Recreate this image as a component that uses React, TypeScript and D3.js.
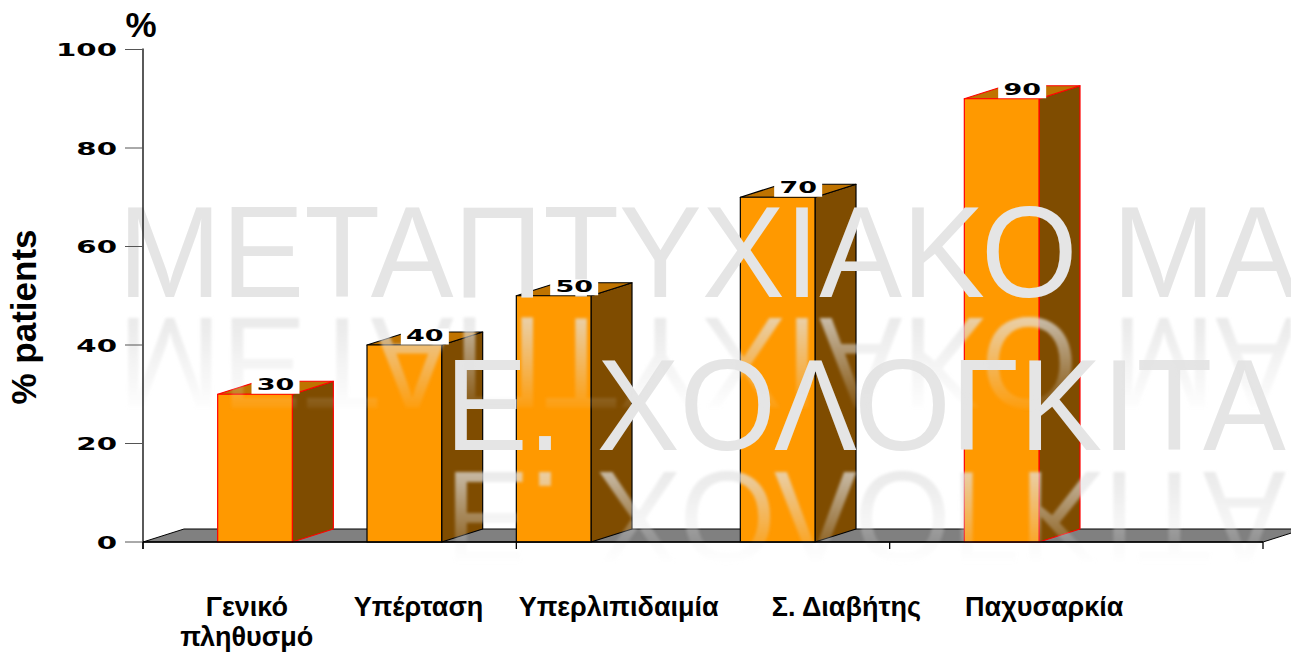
import React from "react";
import * as d3 from "d3";

// ---- data ----
const categories = ["Γενικό πληθυσμό", "Υπέρταση", "Υπερλιπιδαιμία", "Σ. Διαβήτης", "Παχυσαρκία"];
const categoryLines = [["Γενικό", "πληθυσμό"], ["Υπέρταση"], ["Υπερλιπιδαιμία"], ["Σ. Διαβήτης"], ["Παχυσαρκία"]];
const values = [30, 40, 50, 70, 90];
const yTicks = [0, 20, 40, 60, 80, 100];
const yLabel = "% patients";
const yUnit = "%";
const watermark1 = "ΜΕΤΑΠΤΥΧΙΑΚΟ ΜΑΘΗΜΑ";
const watermark2 = "Ε. ΧΟΛΟΓΚΙΤΑΣ";

// ---- layout (slot grid of the original chart) ----
const SLOT_COUNT = 15;
const BAR_SLOT = [1, 3, 5, 8, 11];
const LABEL_SLOT = [1.39, 3.69, 6.37, 9.42, 12.07];
const X_TICK_SLOTS = [0, 5, 10, 15];
const BAR_STROKE = ["#ff0000", "#000000", "#000000", "#000000", "#ff0000"];

const W = 1291;
const H = 655;
const DX = 41;
const DY = 13;

export default function App() {
  const x = d3.scaleLinear().domain([0, SLOT_COUNT]).range([143, 1263]);
  const y = d3.scaleLinear().domain([0, 100]).range([542, 49.5]);
  const bw = x(1) - x(0);
  const y0 = y(0);

  const floor = `M${x(0)},${y0} L${x(SLOT_COUNT)},${y0} L${x(SLOT_COUNT) + DX},${y0 - DY} L${x(0) + DX},${y0 - DY} Z`;

  const wmStyle = { fontFamily: "'Liberation Sans', Arial, sans-serif", fontSize: 130 };

  return (
    <svg width={W} height={H} style={{ position: "absolute", left: 0, top: 0, background: "#fff" }}>
      <defs>
        <linearGradient id="refl1" gradientUnits="userSpaceOnUse" x1="0" y1="310" x2="0" y2="410">
          <stop offset="0" stopColor="#fff" stopOpacity="0.8" />
          <stop offset="1" stopColor="#fff" stopOpacity="0.05" />
        </linearGradient>
        <linearGradient id="refl2" gradientUnits="userSpaceOnUse" x1="0" y1="463" x2="0" y2="560">
          <stop offset="0" stopColor="#fff" stopOpacity="0.8" />
          <stop offset="1" stopColor="#fff" stopOpacity="0.05" />
        </linearGradient>
        <mask id="m1" maskUnits="userSpaceOnUse" x="0" y="0" width={W} height={H}>
          <rect x="0" y="300" width={W} height="120" fill="url(#refl1)" />
        </mask>
        <mask id="m2" maskUnits="userSpaceOnUse" x="0" y="0" width={W} height={H}>
          <rect x="0" y="455" width={W} height="120" fill="url(#refl2)" />
        </mask>
        <filter id="blur1"><feGaussianBlur stdDeviation="1.5" /></filter>
      </defs>

      {/* floor */}
      <path d={floor} fill="#808080" stroke="#000" strokeWidth={1} />

      {/* bars */}
      {values.map((v, i) => {
        const x0 = x(BAR_SLOT[i]);
        const x1 = x0 + bw;
        const yt = y(v);
        const front = `M${x0},${y0} L${x1},${y0} L${x1},${yt} L${x0},${yt} Z`;
        const side = `M${x1},${y0} L${x1 + DX},${y0 - DY} L${x1 + DX},${yt - DY} L${x1},${yt} Z`;
        const top = `M${x0},${yt} L${x1},${yt} L${x1 + DX},${yt - DY} L${x0 + DX},${yt - DY} Z`;
        return (
          <g key={categories[i]} stroke={BAR_STROKE[i]} strokeWidth={1.2} strokeLinejoin="round">
            <path d={side} fill="#7f4c00" />
            <path d={top} fill="#bf7300" />
            <path d={front} fill="#ff9900" />
          </g>
        );
      })}

      {/* watermark */}
      <g fill="#e5e5e5" style={wmStyle}>
        <text transform={`translate(118,297) scale(0.955,1)`}>{watermark1}</text>
        <text transform={`translate(445,450) scale(0.955,1)`}>{watermark2}</text>
      </g>
      {/* reflections */}
      <g fill="#e2e2e2" style={wmStyle} filter="url(#blur1)">
        <g mask="url(#m1)">
          <text transform={`translate(118,318) scale(0.955,-1)`}>{watermark1}</text>
        </g>
        <g mask="url(#m2)">
          <text transform={`translate(445,472) scale(0.955,-1)`}>{watermark2}</text>
        </g>
      </g>

      {/* y axis */}
      <line x1={x(0)} x2={x(0)} y1={y(100) - 1} y2={y0 + 7} stroke="#000" strokeWidth={1.3} />
      {yTicks.map((t) => (
        <g key={t}>
          <line x1={x(0) - 18} x2={x(0)} y1={y(t)} y2={y(t)} stroke="#555" strokeWidth={1} />
          <text
            transform={`translate(117,${y(t) + 6.5}) scale(1.72,1)`}
            textAnchor="end"
            style={{ fontFamily: "'DejaVu Sans', sans-serif", fontWeight: "bold", fontSize: 17 }}
          >
            {t}
          </text>
        </g>
      ))}
      {/* x axis */}
      <line x1={x(0)} x2={x(SLOT_COUNT)} y1={y0} y2={y0} stroke="#000" strokeWidth={1.3} />
      {X_TICK_SLOTS.map((s) => (
        <line key={s} x1={x(s)} x2={x(s)} y1={y0} y2={y0 + 7} stroke="#000" strokeWidth={1.3} />
      ))}

      {/* value labels */}
      {values.map((v, i) => {
        const cx = x(BAR_SLOT[i]) + (bw + DX) / 2;
        const yt = y(v);
        return (
          <g key={"v" + i}>
            <rect x={cx - 24} y={yt - 16.5} width={48} height={16} fill="#fff" />
            <text
              transform={`translate(${cx},${yt - 4}) scale(1.8,1)`}
              textAnchor="middle"
              style={{ fontFamily: "'DejaVu Sans', sans-serif", fontWeight: "bold", fontSize: 15 }}
            >
              {v}
            </text>
          </g>
        );
      })}

      {/* category labels */}
      {categoryLines.map((lines, i) => (
        <text
          key={"c" + i}
          x={x(LABEL_SLOT[i])}
          y={616}
          textAnchor="middle"
          style={{ fontFamily: "'Liberation Sans', Arial, sans-serif", fontWeight: "bold", fontSize: 27 }}
        >
          {lines.map((l, j) => (
            <tspan key={j} x={x(LABEL_SLOT[i])} dy={j === 0 ? 0 : 30}>
              {l}
            </tspan>
          ))}
        </text>
      ))}

      {/* axis titles */}
      <text
        x={141}
        y={37}
        textAnchor="middle"
        style={{ fontFamily: "'Liberation Sans', Arial, sans-serif", fontWeight: "bold", fontSize: 35 }}
      >
        {yUnit}
      </text>
      <text
        transform="translate(36,317) rotate(-90)"
        textAnchor="middle"
        style={{ fontFamily: "'Liberation Sans', Arial, sans-serif", fontWeight: "bold", fontSize: 35 }}
      >
        {yLabel}
      </text>
    </svg>
  );
}
